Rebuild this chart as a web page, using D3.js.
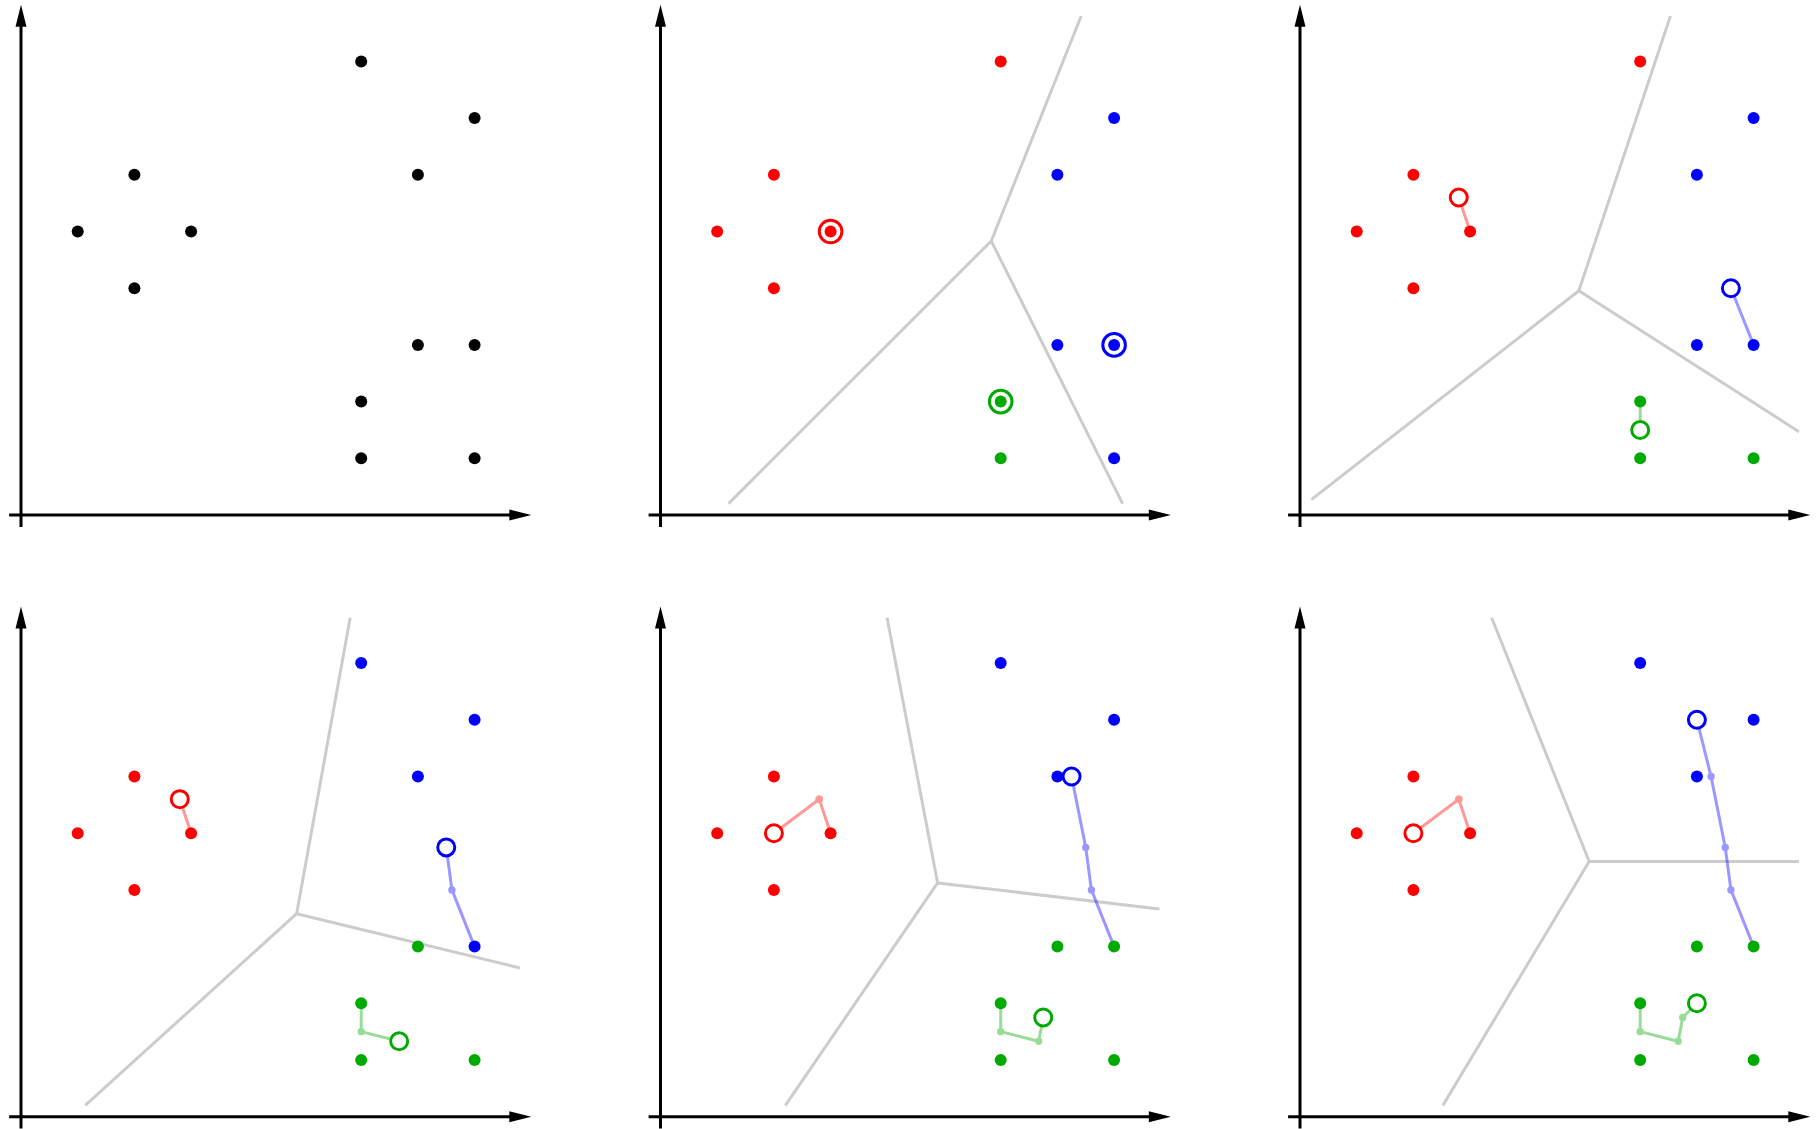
<!DOCTYPE html>
<html>
<head>
<meta charset="utf-8">
<script src="https://cdn.jsdelivr.net/npm/d3@7"></script>
<style>
  html, body { margin: 0; padding: 0; background: #fff; }
  svg { display: block; }
</style>
</head>
<body>
<svg id="chart" width="1818" height="1129"></svg>
<script>
// ---------------- DATA ----------------
// data points (x, y)
const pointsX = [1, 2, 3, 2, 6, 8, 7, 7, 8, 6, 6, 8];
const pointsY = [5, 6, 5, 4, 8, 7, 6, 3, 3, 2, 1, 1];

// cluster label of each point in each panel (-1 = unassigned, 0 red, 1 blue, 2 green)
const labelsPanel1 = [-1, -1, -1, -1, -1, -1, -1, -1, -1, -1, -1, -1];
const labelsPanel2 = [0, 0, 0, 0, 0, 1, 1, 1, 1, 2, 2, 1];
const labelsPanel3 = [0, 0, 0, 0, 0, 1, 1, 1, 1, 2, 2, 2];
const labelsPanel4 = [0, 0, 0, 0, 1, 1, 1, 2, 1, 2, 2, 2];
const labelsPanel5 = [0, 0, 0, 0, 1, 1, 1, 2, 2, 2, 2, 2];
const labelsPanel6 = [0, 0, 0, 0, 1, 1, 1, 2, 2, 2, 2, 2];

// centroid history (iteration 0..4)
const redCentroidX   = [3, 2.8, 2.8, 2, 2];
const redCentroidY   = [5, 5.6, 5.6, 5, 5];
const blueCentroidX  = [8, 7.6, 7.5, 7.25, 7];
const blueCentroidY  = [3, 4, 4.75, 6, 7];
const greenCentroidX = [6, 6, 6.67, 6.75, 7];
const greenCentroidY = [2, 1.5, 1.33, 1.75, 2];

// iteration shown in each panel (null = no centroids)
const panelIteration = [null, 0, 1, 2, 3, 4];

const clusterColors = ["#ff0000", "#0000ff", "#00aa00"];
const unassignedColor = "#000000";

// ---------------- LAYOUT ----------------
const svg = d3.select("#chart");
const unit = 56.7;
const originXs = [21, 660.5, 1300];
const originYs = [515, 1116.7];
const voronoiExtent = [0.2, 0.2, 8.8, 8.8];
const axisMin = -0.21, axisMax = 9.0;

const allLabels = [labelsPanel1, labelsPanel2, labelsPanel3, labelsPanel4, labelsPanel5, labelsPanel6];
const centroidsX = [redCentroidX, blueCentroidX, greenCentroidX];
const centroidsY = [redCentroidY, blueCentroidY, greenCentroidY];

allLabels.forEach((labels, p) => {
  const col = p % 3, row = Math.floor(p / 3);
  const ox = originXs[col], oy = originYs[row];
  const x = d3.scaleLinear().domain([0, 1]).range([ox, ox + unit]);
  const y = d3.scaleLinear().domain([0, 1]).range([oy, oy - unit]);
  const g = svg.append("g");
  const it = panelIteration[p];

  // ---- Voronoi boundaries ----
  if (it !== null) {
    const cents = [0, 1, 2].map(k => [centroidsX[k][it], centroidsY[k][it]]);
    const vor = d3.Delaunay.from(cents).voronoi(voronoiExtent);
    const eps = 1e-6;
    const onSameSide = (a, b) =>
      (Math.abs(a[0] - voronoiExtent[0]) < eps && Math.abs(b[0] - voronoiExtent[0]) < eps) ||
      (Math.abs(a[0] - voronoiExtent[2]) < eps && Math.abs(b[0] - voronoiExtent[2]) < eps) ||
      (Math.abs(a[1] - voronoiExtent[1]) < eps && Math.abs(b[1] - voronoiExtent[1]) < eps) ||
      (Math.abs(a[1] - voronoiExtent[3]) < eps && Math.abs(b[1] - voronoiExtent[3]) < eps);
    const seen = new Set();
    const edges = [];
    for (let i = 0; i < cents.length; i++) {
      const poly = vor.cellPolygon(i);
      if (!poly) continue;
      for (let k = 0; k < poly.length - 1; k++) {
        const a = poly[k], b = poly[k + 1];
        if (onSameSide(a, b)) continue;
        if (Math.hypot(a[0] - b[0], a[1] - b[1]) < eps) continue;
        const ka = a.map(v => v.toFixed(4)).join(","), kb = b.map(v => v.toFixed(4)).join(",");
        const key = ka < kb ? ka + "|" + kb : kb + "|" + ka;
        if (seen.has(key)) continue;
        seen.add(key);
        edges.push([a, b]);
      }
    }
    g.selectAll("line.vor").data(edges).join("line")
      .attr("class", "vor")
      .attr("x1", d => x(d[0][0])).attr("y1", d => y(d[0][1]))
      .attr("x2", d => x(d[1][0])).attr("y2", d => y(d[1][1]))
      .attr("stroke", "#cccccc").attr("stroke-width", 3).attr("stroke-linecap", "butt");
  }

  // ---- axes ----
  const axisG = g.append("g");
  axisG.append("line")
    .attr("x1", x(axisMin)).attr("y1", y(0))
    .attr("x2", x(axisMax) - 18).attr("y2", y(0))
    .attr("stroke", "#000").attr("stroke-width", 3);
  axisG.append("path")
    .attr("d", `M${x(axisMax)},${y(0)} L${x(axisMax) - 22},${y(0) - 5.5} L${x(axisMax) - 22},${y(0) + 5.5} Z`)
    .attr("fill", "#000");
  axisG.append("line")
    .attr("x1", x(0)).attr("y1", y(axisMin))
    .attr("x2", x(0)).attr("y2", y(axisMax) + 18)
    .attr("stroke", "#000").attr("stroke-width", 3);
  axisG.append("path")
    .attr("d", `M${x(0)},${y(axisMax)} L${x(0) - 5.5},${y(axisMax) + 22} L${x(0) + 5.5},${y(axisMax) + 22} Z`)
    .attr("fill", "#000");

  // ---- centroid trails ----
  if (it !== null && it > 0) {
    for (let k = 0; k < 3; k++) {
      const trail = d3.range(it + 1).map(t => [centroidsX[k][t], centroidsY[k][t]]);
      const tg = g.append("g").attr("opacity", 0.4);
      tg.append("path")
        .attr("d", d3.line().x(d => x(d[0])).y(d => y(d[1]))(trail))
        .attr("fill", "none").attr("stroke", clusterColors[k]).attr("stroke-width", 3);
      tg.selectAll("circle").data(trail.slice(1, -1)).join("circle")
        .attr("cx", d => x(d[0])).attr("cy", d => y(d[1])).attr("r", 3.7)
        .attr("fill", clusterColors[k]);
    }
  }

  // ---- data points ----
  const pts = pointsX.map((px, i) => ({ x: px, y: pointsY[i], c: labels[i] }));
  g.selectAll("circle.pt").data(pts).join("circle")
    .attr("class", "pt")
    .attr("cx", d => x(d.x)).attr("cy", d => y(d.y)).attr("r", 6)
    .attr("fill", d => d.c < 0 ? unassignedColor : clusterColors[d.c]);

  // ---- centroids ----
  if (it !== null) {
    for (let k = 0; k < 3; k++) {
      const cx = x(centroidsX[k][it]), cy = y(centroidsY[k][it]);
      if (it === 0) {
        g.append("circle").attr("cx", cx).attr("cy", cy).attr("r", 11.3)
          .attr("fill", "#fff").attr("stroke", clusterColors[k]).attr("stroke-width", 3);
        g.append("circle").attr("cx", cx).attr("cy", cy).attr("r", 6)
          .attr("fill", clusterColors[k]);
      } else {
        g.append("circle").attr("cx", cx).attr("cy", cy).attr("r", 8.5)
          .attr("fill", "#fff").attr("stroke", clusterColors[k]).attr("stroke-width", 3);
      }
    }
  }
});
</script>
</body>
</html>
